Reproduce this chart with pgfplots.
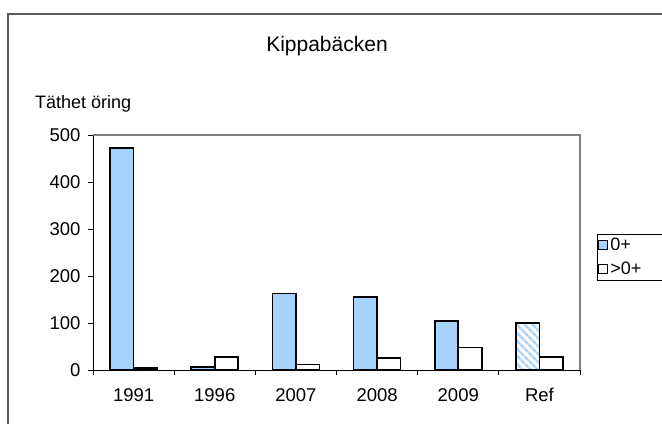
\documentclass[border=0pt]{standalone}
\usepackage{pgfplots}
\pgfplotsset{compat=1.18}
\usepackage{fontspec}
\setmainfont{Liberation Sans}
\usetikzlibrary{patterns.meta}
\definecolor{lblue}{RGB}{166,211,255}
\definecolor{frame}{RGB}{90,90,90}
\begin{document}
\begin{tikzpicture}[x=1bp,y=1bp]
\useasboundingbox (0,0) rectangle (662,423);
\fill[white] (0,0) rectangle (662,423);
\draw[frame, line width=1.4bp] (8,-5) -- (8,409) -- (670,409);
\node[font=\fontsize{21bp}{24bp}\selectfont] at (327,377) {Kippabäcken};
\node[font=\fontsize{18bp}{21bp}\selectfont, anchor=west, inner sep=0pt] at (35,319) {Täthet öring};
\begin{axis}[
  at={(93bp,53bp)}, anchor=south west,
  scale only axis, width=487bp, height=235bp,
  ybar=0pt, bar width=0.29,
  xmin=-0.5, xmax=5.5, ymin=0, ymax=500,
  axis x line*=bottom, axis y line*=left,
  axis line style={black, line width=0.8bp, -},
  xtick={0,...,5}, xticklabels={1991,1996,2007,2008,2009,Ref},
  minor xtick={-0.5,0.5,...,5.5},
  major x tick style={draw=none},
  minor tick length=5bp,
  ytick={0,100,...,500}, major tick length=5bp,
  tick align=outside,
  tick style={black, line width=0.8bp},
  /pgf/number format/assume math mode=true,
  ticklabel style={font=\fontsize{18.5bp}{21bp}\selectfont},
  xticklabel style={yshift=-10bp},
  yticklabel style={xshift=-4bp},
  legend style={at={(axis description cs:1,0.479)}, anchor=west, xshift=17bp,
    draw=black, line width=0.8bp, font=\fontsize{18bp}{21bp}\selectfont,
    row sep=6bp, inner xsep=1bp, inner ysep=2bp, text width=60bp},
  legend cell align=left,
  legend image code/.code={\draw[#1, line width=1bp] (0bp,-4.5bp) rectangle (9bp,4.5bp);},
  clip=false,
]
\addplot[draw=black, line width=1.7bp, fill=lblue, bar shift=-0.145] coordinates {(0,473) (1,7) (2,163) (3,156) (4,104)};
\addlegendentry{0+}
\addplot[draw=black, line width=1.7bp, fill=white, bar shift=0.145] coordinates {(0,5) (1,27) (2,12) (3,25) (4,48) (5,28)};
\addlegendentry{>0+}
\addplot[forget plot, draw=black, line width=1.7bp, bar shift=-0.145,
  pattern={Lines[angle=-45, distance=6bp, line width=3bp]}, pattern color=lblue] coordinates {(5,100)};
\draw[gray, line width=1.2bp] (rel axis cs:0,1) -- (rel axis cs:1,1) -- (rel axis cs:1,0);
\end{axis}
\end{tikzpicture}
\end{document}
